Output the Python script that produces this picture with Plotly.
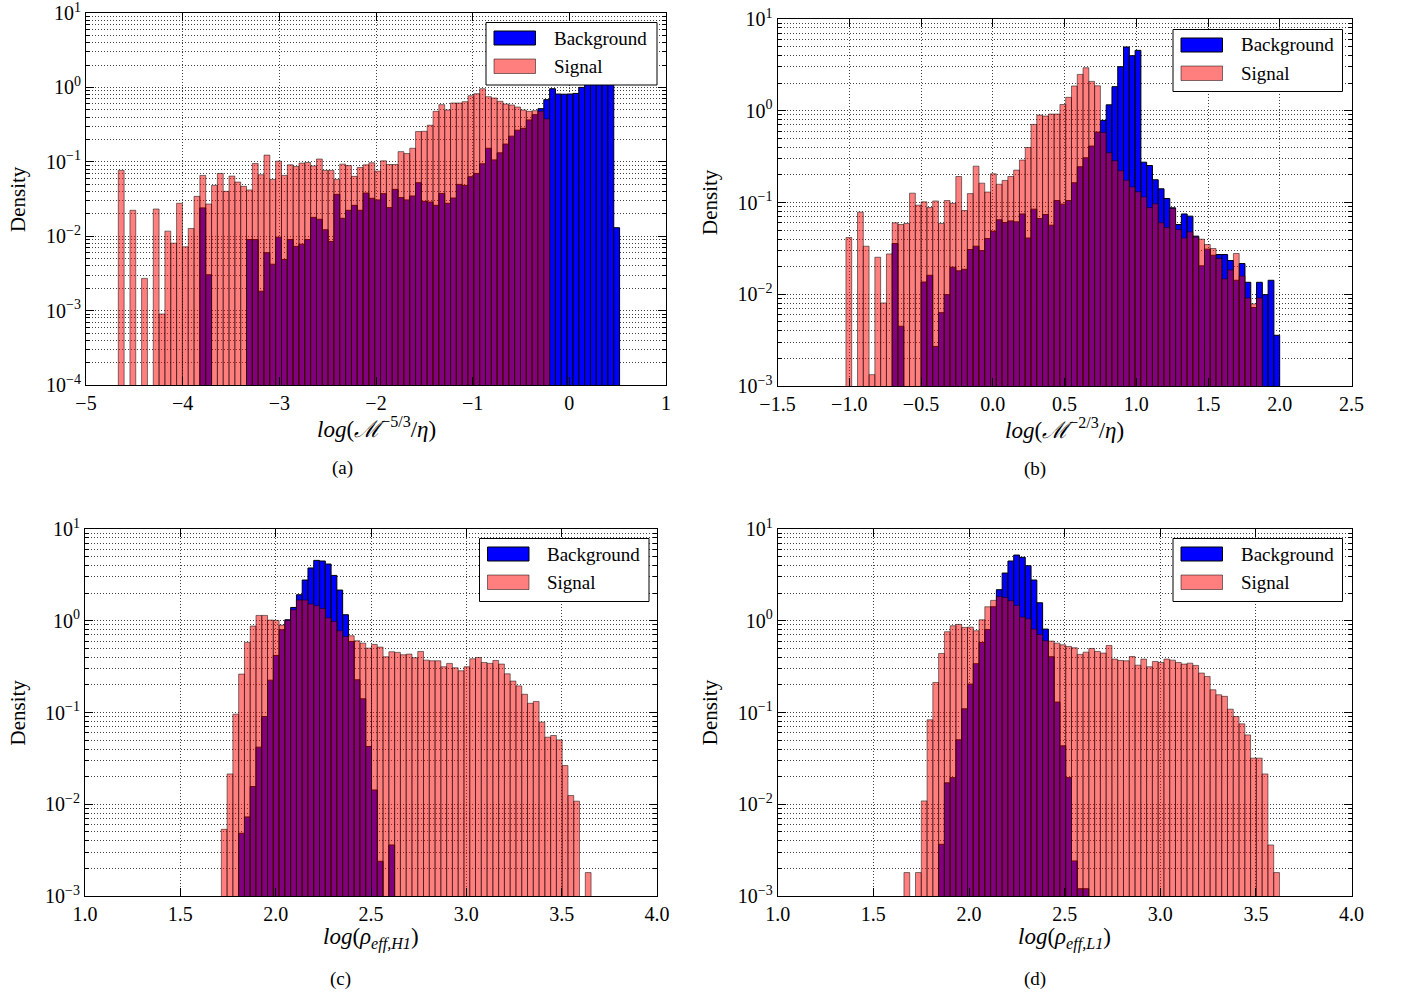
import numpy as np
import plotly.graph_objects as go

# ---------------- data (histogram densities) ----------------
# panel (a): log(M^-5/3 / eta)
A_START, A_WIDTH = -4.666, 0.0603
a_sig = [0.0766, 0, 0.0223, 0, 0.00271, 0, 0.0232, 0.0009, 0.0117, 0.00806,
         0.0277, 0.0072, 0.0127, 0.0343, 0.0656, 0.0271, 0.0482, 0.0698, 0.0401, 0.0643,
         0.0534, 0.0468, 0.0418, 0.095, 0.067, 0.123, 0.058, 0.102, 0.0656, 0.091,
         0.0866, 0.096, 0.098, 0.088, 0.109, 0.0766, 0.0766, 0.058, 0.093, 0.089,
         0.0637, 0.084, 0.091, 0.097, 0.075, 0.103, 0.092, 0.092, 0.137, 0.129,
         0.152, 0.255, 0.257, 0.31, 0.477, 0.586, 0.497, 0.617, 0.617, 0.643,
         0.773, 0.822, 0.96, 0.75, 0.72, 0.65, 0.598, 0.58, 0.545, 0.497,
         0.477, 0.487, 0.477, 0.377, 0, 0, 0, 0, 0, 0,
         0, 0, 0, 0, 0, 0]
a_bg = [0, 0, 0, 0, 0, 0, 0, 0, 0, 0,
        0, 0, 0, 0, 0.024, 0.00303, 0, 0, 0, 0,
        0, 0, 0.009, 0.009, 0.00182, 0.006, 0.0042, 0.0097, 0.00487, 0.009,
        0.0073, 0.0078, 0.009, 0.0179, 0.0169, 0.0122, 0.0085, 0.0365, 0.0174, 0.0223,
        0.026, 0.0223, 0.038, 0.0323, 0.0307, 0.0373, 0.0242, 0.0426, 0.033, 0.0307,
        0.0347, 0.0523, 0.0294, 0.0288, 0.026, 0.0376, 0.0277, 0.0326, 0.0497, 0.0482,
        0.063, 0.0698, 0.094, 0.152, 0.106, 0.132, 0.173, 0.221, 0.266, 0.282,
        0.365, 0.43, 0.518, 0.684, 0.96, 0.815, 0.81, 0.815, 0.83, 1.0,
        1.3, 1.5, 1.6, 1.5, 1.4, 0.013]

# panel (b): log(M^-2/3 / eta)
B_START, B_WIDTH = -1.023, 0.0403
b_sig = [0.0415, 0, 0.0785, 0.0334, 0.00133, 0.0253, 0.00804, 0.0275, 0.06, 0.0575,
         0.059, 0.1264, 0.0935, 0.1017, 0.088, 0.104, 0.059, 0.105, 0.098, 0.192,
         0.0818, 0.125, 0.249, 0.1625, 0.13, 0.2055, 0.158, 0.174, 0.192, 0.2254,
         0.29, 0.398, 0.71, 0.897, 0.875, 0.92, 0.92, 1.17, 1.4, 1.86,
         2.49, 2.94, 2.09, 1.87, 0.58, 0.348, 0.285, 0.222, 0.175, 0.148,
         0.131, 0.115, 0.088, 0.0967, 0.06, 0.0533, 0.086, 0.0507, 0.041, 0.0479,
         0.042, 0.0398, 0.0348, 0.0315, 0.0245, 0.0147, 0.0184, 0.0278, 0.0158, 0.0091,
         0.00785, 0.0091, 0, 0, 0]
b_bg = [0, 0, 0, 0, 0, 0, 0, 0, 0.0357, 0.00448,
        0, 0, 0, 0.0136, 0.0161, 0.0027, 0.0063, 0.0099, 0.0197, 0.018,
        0.0187, 0.0307, 0.0334, 0.0299, 0.0405, 0.0486, 0.0647, 0.0605, 0.063, 0.0615,
        0.075, 0.041, 0.0846, 0.0669, 0.074, 0.0566, 0.105, 0.096, 0.105, 0.164,
        0.245, 0.307, 0.412, 0.585, 0.785, 1.16, 1.83, 3.02, 4.95, 3.98,
        4.55, 0.275, 0.253, 0.177, 0.141, 0.1106, 0.0875, 0.0575, 0.075, 0.071,
        0.043, 0.0204, 0.031, 0.0266, 0.0271, 0.0271, 0.0233, 0.0142, 0.0216, 0.0135,
        0.00716, 0.0135, 0.0099, 0.0142, 0.00357]

# panel (c): log(rho_eff,H1)
C_START, C_WIDTH = 1.715, 0.0303
c_sig = [0.00533, 0.0214, 0.0959, 0.262, 0.581, 0.875, 1.143, 1.143, 1.017, 1.008,
         0.897, 1.008, 1.318, 1.68, 1.68, 1.52, 1.458, 1.363, 1.078, 0.983,
         0.778, 0.675, 0.686, 0.605, 0.57, 0.503, 0.552, 0.516, 0.405, 0.459,
         0.452, 0.426, 0.433, 0.395, 0.463, 0.372, 0.366, 0.366, 0.315, 0.343,
         0.307, 0.285, 0.315, 0.385, 0.398, 0.351, 0.343, 0.369, 0.337, 0.264,
         0.22, 0.195, 0.158, 0.126, 0.132, 0.0785, 0.0538, 0.0561, 0.0503, 0.0264,
         0.01244, 0.0108, 0, 0.0018]
c_bg = [0, 0, 0, 0.00483, 0.00727, 0.0156, 0.0419, 0.0904, 0.225, 0.419,
        0.798, 1.025, 1.397, 1.92, 2.78, 3.76, 4.55, 4.48, 4.15, 3.12,
        2.16, 1.163, 0.595, 0.227, 0.141, 0.0426, 0.0143, 0.00239, 0, 0.0036,
        0, 0, 0, 0, 0, 0, 0, 0, 0, 0,
        0, 0, 0, 0, 0, 0, 0, 0, 0, 0,
        0, 0, 0, 0, 0, 0, 0, 0, 0, 0,
        0, 0, 0, 0]

# panel (d): log(rho_eff,L1)
D_START, D_WIDTH = 1.66, 0.0302
d_sig = [0.0018, 0, 0.0018, 0.01087, 0.0832, 0.2125, 0.44, 0.759, 0.882, 0.912,
         0.846, 0.853, 0.778, 1.025, 1.42, 1.667, 1.84, 1.797, 1.65, 1.47,
         1.096, 1.05, 0.811, 0.709, 0.605, 0.6, 0.57, 0.547, 0.525, 0.508,
         0.43, 0.455, 0.499, 0.463, 0.444, 0.538, 0.382, 0.369, 0.366, 0.408,
         0.328, 0.382, 0.315, 0.36, 0.351, 0.382, 0.372, 0.351, 0.337, 0.345,
         0.326, 0.269, 0.247, 0.177, 0.156, 0.15, 0.1087, 0.0904, 0.0752, 0.057,
         0.0318, 0.0318, 0.0214, 0.0036, 0.0018]
d_bg = [0, 0, 0, 0, 0, 0, 0.00366, 0.0171, 0.0195, 0.0504,
        0.1097, 0.204, 0.34, 0.58, 0.804, 1.42, 2.18, 3.31, 4.48, 5.2,
        4.91, 3.98, 2.78, 1.57, 0.811, 0.405, 0.13, 0.0433, 0.0195, 0.00241,
        0.0012, 0.0012, 0, 0, 0, 0, 0, 0, 0, 0,
        0, 0, 0, 0, 0, 0, 0, 0, 0, 0,
        0, 0, 0, 0, 0, 0, 0, 0, 0, 0,
        0, 0, 0, 0, 0]

a_xticks = [-5, -4, -3, -2, -1, 0, 1]
b_xticks = [-1.5, -1.0, -0.5, 0.0, 0.5, 1.0, 1.5, 2.0, 2.5]
cd_xticks = [1.0, 1.5, 2.0, 2.5, 3.0, 3.5, 4.0]

series_names = ["Background", "Signal"]
x_titles = ["<i>log</i>(<i>ℳ</i><sup>−5/3</sup>/<i>η</i>)",
            "<i>log</i>(<i>ℳ</i><sup>−2/3</sup>/<i>η</i>)",
            "<i>log</i>(<i>ρ</i><sub><i>eff,H1</i></sub>)",
            "<i>log</i>(<i>ρ</i><sub><i>eff,L1</i></sub>)"]
captions = ["(a)", "(b)", "(c)", "(d)"]

# ---------------- figure ----------------
W, H = 1405, 999
FONT = "Liberation Serif"
BLUE = "#0000ff"
RED_A = "rgba(255,0,0,0.5)"
GRID = "rgba(0,0,0,0.75)"
DOTS = "1px,2px"


def px(x):
    return x / W


def py(y):
    return 1 - y / H


def fmt_num(v, dec):
    s = f"{v:.{dec}f}"
    return s.replace("-", "−")


panels = [
    dict(start=A_START, width=A_WIDTH, bg=a_bg, sig=a_sig, xr=[-5, 1], yr=(-4, 1),
         xt=a_xticks, dec=0, box=(86, 666, 13, 385)),
    dict(start=B_START, width=B_WIDTH, bg=b_bg, sig=b_sig, xr=[-1.5, 2.5], yr=(-3, 1),
         xt=b_xticks, dec=1, box=(777.5, 1351.5, 19, 386)),
    dict(start=C_START, width=C_WIDTH, bg=c_bg, sig=c_sig, xr=[1.0, 4.0], yr=(-3, 1),
         xt=cd_xticks, dec=1, box=(85, 657, 529, 896)),
    dict(start=D_START, width=D_WIDTH, bg=d_bg, sig=d_sig, xr=[1.0, 4.0], yr=(-3, 1),
         xt=cd_xticks, dec=1, box=(777.7, 1351.6, 529, 896)),
]

fig = go.Figure()
layout = dict(width=W, height=H, margin=dict(l=0, r=0, t=0, b=0, autoexpand=False),
              paper_bgcolor="white", plot_bgcolor="white",
              barmode="overlay", showlegend=False,
              font=dict(family=FONT, color="black", size=20))
shapes = []
annotations = []

axis_common = dict(showline=True, linecolor="black", linewidth=1, mirror="allticks",
                   ticks="inside", ticklen=8, tickwidth=1, tickcolor="black",
                   showgrid=True, gridcolor=GRID, griddash=DOTS, gridwidth=1,
                   zeroline=False, automargin=False, ticklabeloverflow="allow",
                   tickfont=dict(family=FONT, size=20, color="black"))

for i, p in enumerate(panels):
    n = i + 1
    xa = "x" if n == 1 else f"x{n}"
    ya = "y" if n == 1 else f"y{n}"
    centers = p["start"] + (np.arange(len(p["bg"])) + 0.5) * p["width"]
    bg = [v if v > 0 else None for v in p["bg"]]
    sig = [v if v > 0 else None for v in p["sig"]]
    fig.add_trace(go.Bar(x=centers, y=bg, width=p["width"], name=series_names[0],
                         marker=dict(color=BLUE, line=dict(color="black", width=1)),
                         xaxis=xa, yaxis=ya))
    fig.add_trace(go.Bar(x=centers, y=sig, width=p["width"], name=series_names[1],
                         marker=dict(color=RED_A, line=dict(color="rgba(0,0,0,0.5)", width=1)),
                         xaxis=xa, yaxis=ya))
    l, r, t, b = p["box"]
    lo, hi = p["yr"]
    ytv = [10.0 ** k for k in range(lo, hi + 1)]
    ytt = [f"10<sup>{str(k).replace('-', '−')}</sup>" for k in range(lo, hi + 1)]
    minor_vals = [m * 10.0 ** k for k in range(lo, hi) for m in range(2, 10)]
    xkey = "xaxis" if n == 1 else f"xaxis{n}"
    ykey = "yaxis" if n == 1 else f"yaxis{n}"
    layout[xkey] = dict(axis_common, domain=[px(l), px(r)], range=p["xr"], anchor=ya,
                        tickmode="array", tickvals=p["xt"],
                        ticktext=[fmt_num(v, p["dec"]) for v in p["xt"]])
    layout[ykey] = dict(axis_common, domain=[py(b), py(t)], type="log", range=[lo, hi],
                        anchor=xa, tickmode="array", tickvals=ytv, ticktext=ytt,
                        minor=dict(tickmode="array", tickvals=minor_vals, ticks="inside",
                                   ticklen=4, tickcolor="black", showgrid=True,
                                   gridcolor=GRID, griddash=DOTS, gridwidth=1))
    # axis titles and captions
    cx = (l + r) / 2
    cy = (t + b) / 2
    annotations.append(dict(text=x_titles[i], x=px(cx), y=py(b + 42), xref="paper", yref="paper",
                            showarrow=False, xanchor="center", yanchor="middle",
                            font=dict(family=FONT, size=23, color="black")))
    annotations.append(dict(text="Density", x=px(l - 68), y=py(cy), xref="paper", yref="paper",
                            showarrow=False, xanchor="center", yanchor="middle", textangle=-90,
                            font=dict(family=FONT, size=21, color="black")))
    cap_x = [342, 1035, 340, 1035][i]
    annotations.append(dict(text=captions[i], x=px(cap_x), y=py(b + 83), xref="paper",
                            yref="paper", showarrow=False, xanchor="center", yanchor="middle",
                            font=dict(family=FONT, size=19, color="black")))

# legends (matplotlib-style boxes)
legend_boxes = [(486, 657, 22.5, 85), (1173, 1342.5, 29.5, 91.5),
                (479.5, 649, 538.5, 601.5), (1173, 1342.5, 538.5, 601.5)]
for (l, r, t, b) in legend_boxes:
    shapes.append(dict(type="rect", xref="paper", yref="paper", x0=px(l), x1=px(r),
                       y0=py(b), y1=py(t), fillcolor="white", line=dict(color="black", width=1),
                       layer="above"))
    pl = l + 8
    pr = pl + 41.5
    rows = [(t + 8.5, t + 22.5), (t + 36.5, t + 51)]
    cols = [(BLUE, "black"), (RED_A, "rgba(0,0,0,0.5)")]
    for k, ((y0, y1), (fc, lc)) in enumerate(zip(rows, cols)):
        shapes.append(dict(type="rect", xref="paper", yref="paper", x0=px(pl), x1=px(pr),
                           y0=py(y1), y1=py(y0), fillcolor=fc, line=dict(color=lc, width=1),
                           layer="above"))
        annotations.append(dict(text=series_names[k], x=px(pr + 16), y=py((y0 + y1) / 2),
                                xref="paper", yref="paper", showarrow=False, xanchor="left",
                                yanchor="middle", font=dict(family=FONT, size=19, color="black")))

layout["shapes"] = shapes
layout["annotations"] = annotations
fig.update_layout(**layout)
# remove the default 8px page margin so the figure sits at the window's top-left corner
fig.write_html("out.html", config={"displayModeBar": False},
               post_script="document.body.style.margin='0px';")
